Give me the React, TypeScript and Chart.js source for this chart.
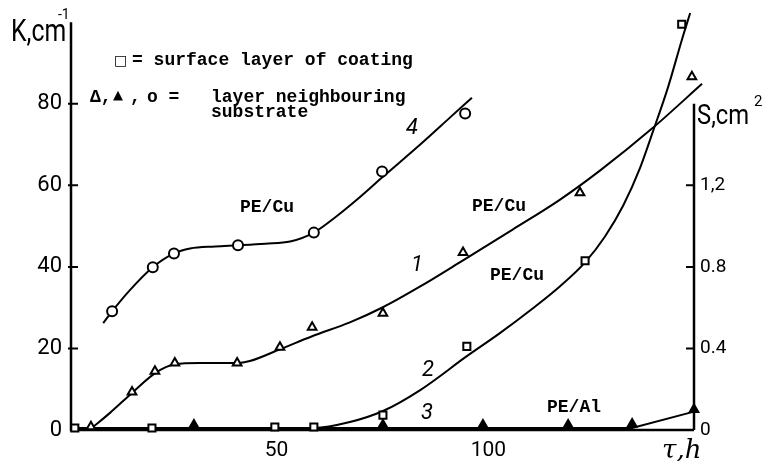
import React, { useEffect, useRef } from "react";
import { Chart, registerables } from "chart.js";

Chart.register(...registerables);

// Exposure time, h (x) and measured values per curve
// Curve 4: PE/Cu, layer neighbouring substrate (K, cm^-1)
const tau4Line = [9.1, 11.2, 15.4, 20.8, 25.8, 29.6, 35.5, 40.9, 47.3, 53.2, 58.8, 63.8, 69.0, 74.9, 83.9, 90.9, 96.1];
const k4Line = [26.2, 29.1, 34.3, 39.9, 43.3, 44.5, 45.0, 45.3, 45.7, 46.2, 48.4, 52.1, 56.5, 61.9, 70.0, 76.6, 81.5];
const tau4Pts = [11.2, 20.8, 25.8, 40.9, 58.8, 74.9, 94.5];
const k4Pts = [29.1, 39.9, 43.3, 45.3, 48.4, 63.4, 77.6];

// Curve 1: PE/Cu, layer neighbouring substrate (K, cm^-1)
const tau1Line = [6.2, 10.7, 15.9, 21.3, 26.0, 31.9, 40.7, 43.7, 50.8, 58.4, 67.3, 75.1, 83.9, 94.0, 105.8, 116.9, 126.3, 138.8, 150.4];
const k1Line = [0.3, 4.2, 9.1, 13.9, 16.1, 16.4, 16.4, 16.9, 19.8, 23.0, 26.4, 30.1, 35.2, 41.6, 49.2, 56.5, 63.6, 74.1, 84.9];
const tau1Pts = [6.2, 15.9, 21.3, 26.0, 40.7, 50.8, 58.4, 75.1, 94.0, 121.6, 148.0];
const k1Pts = [0.8, 9.3, 14.4, 16.4, 16.4, 20.3, 25.2, 28.6, 43.5, 58.2, 86.6];

// Curve 2: PE/Cu, surface layer of coating (S, cm^2)
const tau2Line = [2.4, 20.6, 49.6, 58.8, 67.3, 75.1, 83.9, 94.9, 102.7, 110.5, 116.9, 122.8, 127.5, 131.8, 135.8, 138.8, 142.4, 145.7, 147.6];
const s2Line = [0.01, 0.01, 0.01, 0.01, 0.039, 0.093, 0.196, 0.362, 0.475, 0.597, 0.705, 0.822, 0.949, 1.101, 1.287, 1.463, 1.683, 1.918, 2.045];
const tau2Pts = [2.4, 20.6, 49.6, 58.8, 75.1, 94.9, 122.8, 145.6];
const s2Pts = [0.01, 0.01, 0.015, 0.015, 0.073, 0.41, 0.83, 1.99];

// Curve 3: PE/Al, layer neighbouring substrate (S, cm^2)
const tau3Line = [1.5, 30.5, 75.1, 98.7, 118.8, 133.9, 148.5];
const s3Line = [0.01, 0.01, 0.01, 0.01, 0.01, 0.01, 0.09];
const tau3Pts = [30.5, 75.1, 98.7, 118.8, 133.9, 148.5];
const s3Pts = [0.025, 0.025, 0.025, 0.025, 0.03, 0.1];

// Axis ticks
const kTicks = [0, 20, 40, 60, 80];
const sTicks = [0, 0.4, 0.8, 1.2];
const sTickLabels = ["0", "0.4", "0.8", "1,2"];
const tauTicks = [50, 100];
const sAxisTop = 1.6;

const FONT_NUM = "Roboto, 'Liberation Sans', sans-serif";
const FONT_TYPE = "'Liberation Mono', 'DejaVu Sans Mono', monospace";

const pts = (xs: number[], ys: number[]) => xs.map((x, i) => ({ x, y: ys[i] }));

// Text squeezed horizontally to mimic a condensed face
const narrowText = (ctx: any, text: string, x: number, y: number, sx: number) => {
  ctx.save();
  ctx.translate(x, y);
  ctx.scale(sx, 1);
  ctx.fillText(text, 0, 0);
  ctx.restore();
};

const axesAndNotes = {
  id: "axesAndNotes",
  beforeDatasetsDraw(chart: any) {
    const { ctx, chartArea, scales } = chart;
    const x0 = chartArea.left;
    const x1 = chartArea.right;
    const yb = chartArea.bottom;
    ctx.save();
    ctx.strokeStyle = "#000";
    ctx.lineCap = "butt";
    ctx.lineWidth = 2.5;
    ctx.beginPath();
    ctx.moveTo(x0, chartArea.top);
    ctx.lineTo(x0, yb);
    ctx.lineTo(x1, yb);
    ctx.moveTo(x1, scales.y2.getPixelForValue(sAxisTop));
    ctx.lineTo(x1, yb);
    ctx.stroke();
    ctx.lineWidth = 2;
    ctx.beginPath();
    kTicks.filter((v) => v > 0).forEach((v) => {
      const y = scales.y.getPixelForValue(v);
      ctx.moveTo(x0 - 3, y);
      ctx.lineTo(x0 + 7, y);
    });
    sTicks.filter((v) => v > 0).forEach((v) => {
      const y = scales.y2.getPixelForValue(v);
      ctx.moveTo(x1, y);
      ctx.lineTo(x1 - 8, y);
    });
    ctx.stroke();
    ctx.restore();
  },
  afterDraw(chart: any) {
    const { ctx } = chart;
    ctx.save();
    ctx.fillStyle = "#000";
    ctx.textAlign = "left";
    ctx.textBaseline = "alphabetic";

    // Axis titles
    ctx.font = `31px ${FONT_NUM}`;
    narrowText(ctx, "K,cm", 11, 41, 0.8);
    ctx.font = `14px ${FONT_NUM}`;
    ctx.fillText("-1", 58, 19);
    ctx.font = `28px ${FONT_NUM}`;
    narrowText(ctx, "S,cm", 697, 124, 0.85);
    ctx.font = `15px ${FONT_NUM}`;
    ctx.fillText("2", 754, 106);
    ctx.font = `italic 26px 'DejaVu Serif', serif`;
    ctx.fillText("τ,h", 662, 458);

    // Legend
    ctx.textBaseline = "middle";
    ctx.font = `14px 'DejaVu Sans', sans-serif`;
    ctx.fillText("□", 114, 61);
    ctx.font = `bold 18px ${FONT_TYPE}`;
    ctx.fillText("= surface layer of coating", 132, 60);
    ctx.fillText("Δ,", 90, 97);
    ctx.font = `13px 'DejaVu Sans', sans-serif`;
    ctx.fillText("▲", 113, 96);
    ctx.font = `bold 18px ${FONT_TYPE}`;
    ctx.fillText(",", 130, 97);
    ctx.fillText("o =", 147, 97);
    ctx.fillText("layer neighbouring", 211, 97);
    ctx.fillText("substrate", 211, 112);

    // Material labels
    ctx.fillText("PE/Cu", 240, 207);
    ctx.fillText("PE/Cu", 472, 206);
    ctx.fillText("PE/Cu", 490, 275);
    ctx.fillText("PE/Al", 547, 407);

    // Curve numbers
    ctx.textAlign = "center";
    ctx.font = `italic 22px ${FONT_NUM}`;
    ctx.fillText("4", 412, 128);
    ctx.fillText("1", 417, 265);
    ctx.fillText("2", 428, 370);
    ctx.fillText("3", 427, 413);
    ctx.restore();
  },
};

export default function App() {
  const canvasRef = useRef<HTMLCanvasElement | null>(null);

  useEffect(() => {
    const canvas = canvasRef.current;
    if (!canvas) return;

    const lineStyle = {
      showLine: true,
      pointRadius: 0,
      borderColor: "#000",
      borderWidth: 2,
      cubicInterpolationMode: "monotone" as const,
      clip: false as const,
      order: 2,
    };
    const markStyle = {
      showLine: false,
      borderColor: "#000",
      backgroundColor: "#fff",
      borderWidth: 2,
      clip: false as const,
      order: 1,
    };

    const chart = new Chart(canvas, {
      type: "scatter",
      data: {
        datasets: [
          { ...lineStyle, data: pts(tau4Line, k4Line), yAxisID: "y" },
          { ...lineStyle, data: pts(tau1Line, k1Line), yAxisID: "y" },
          { ...lineStyle, data: pts(tau2Line, s2Line), yAxisID: "y2" },
          {
            ...lineStyle,
            data: pts(tau3Line, s3Line),
            yAxisID: "y2",
            cubicInterpolationMode: "default" as const,
            tension: 0,
          },
          { ...markStyle, data: pts(tau4Pts, k4Pts), yAxisID: "y", pointStyle: "circle", pointRadius: 5 },
          { ...markStyle, data: pts(tau1Pts, k1Pts), yAxisID: "y", pointStyle: "triangle", pointRadius: 5 },
          { ...markStyle, data: pts(tau2Pts, s2Pts), yAxisID: "y2", pointStyle: "rect", pointRadius: 5 },
          {
            ...markStyle,
            data: pts(tau3Pts, s3Pts),
            yAxisID: "y2",
            pointStyle: "triangle",
            pointRadius: 5,
            backgroundColor: "#000",
          },
        ],
      },
      options: {
        responsive: false,
        animation: false,
        devicePixelRatio: 1,
        layout: { padding: { top: 21, left: 0, right: 0, bottom: 0 } },
        plugins: { legend: { display: false }, tooltip: { enabled: false }, title: { display: false } },
        scales: {
          x: {
            type: "linear",
            min: 1.5,
            max: 148.5,
            grid: { display: false, drawTicks: false },
            border: { display: false },
            afterBuildTicks: (s: any) => {
              s.ticks = tauTicks.map((value) => ({ value }));
            },
            afterFit: (s: any) => {
              s.height = 31;
            },
            ticks: {
              color: "#000",
              padding: 8,
              maxRotation: 0,
              font: { family: FONT_NUM, size: 21 },
            },
          },
          y: {
            type: "linear",
            position: "left",
            min: 0,
            max: 100,
            grid: { display: false, drawTicks: false },
            border: { display: false },
            afterBuildTicks: (s: any) => {
              s.ticks = kTicks.map((value) => ({ value }));
            },
            afterFit: (s: any) => {
              s.width = 71;
            },
            ticks: {
              color: "#000",
              padding: 9,
              font: { family: FONT_NUM, size: 22 },
            },
          },
          y2: {
            type: "linear",
            position: "right",
            min: 0,
            max: 2.0,
            grid: { display: false, drawTicks: false },
            border: { display: false },
            afterBuildTicks: (s: any) => {
              s.ticks = sTicks.map((value) => ({ value }));
            },
            afterFit: (s: any) => {
              s.width = 75;
            },
            ticks: {
              color: "#000",
              padding: 6,
              font: { family: FONT_NUM, size: 19 },
              callback: (v: any) => {
                const i = sTicks.indexOf(Number(v));
                return i >= 0 ? sTickLabels[i] : "";
              },
            },
          },
        },
      },
      plugins: [axesAndNotes],
    });

    return () => chart.destroy();
  }, []);

  return (
    <div style={{ position: "fixed", left: 0, top: 0, width: 769, height: 461, background: "#fff" }}>
      <canvas ref={canvasRef} width={769} height={461} style={{ display: "block" }} />
    </div>
  );
}
